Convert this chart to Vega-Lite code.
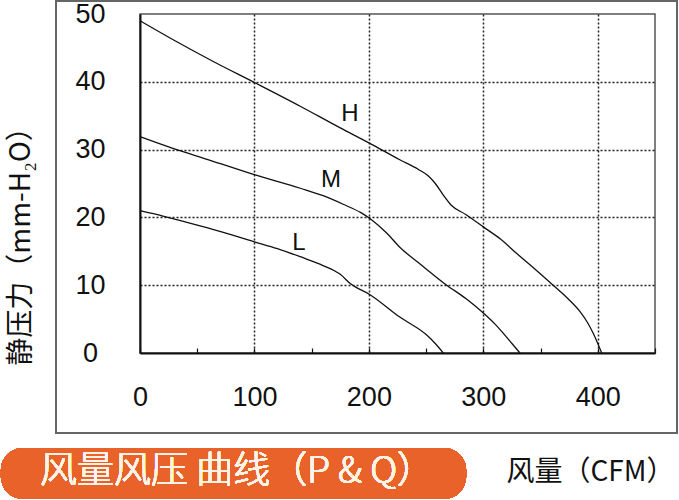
{
  "$schema": "https://vega.github.io/schema/vega-lite/v6.json",
  "width": 515,
  "height": 339,
  "autosize": {"type": "none"},
  "padding": {"left": 140, "top": 14, "right": 24, "bottom": 147},
  "background": "white",
  "config": {
    "view": {"stroke": "#555", "strokeWidth": 1.5},
    "font": "Liberation Sans"
  },
  "data": {
    "values": [
      {"curve": "H", "q": 0, "p": 49},
      {"curve": "H", "q": 29, "p": 46.2},
      {"curve": "H", "q": 64, "p": 43},
      {"curve": "H", "q": 100, "p": 39.9},
      {"curve": "H", "q": 140, "p": 36.4},
      {"curve": "H", "q": 175, "p": 33.2},
      {"curve": "H", "q": 200, "p": 31},
      {"curve": "H", "q": 227, "p": 28.5},
      {"curve": "H", "q": 243, "p": 27.1},
      {"curve": "H", "q": 252, "p": 26.1},
      {"curve": "H", "q": 258, "p": 25},
      {"curve": "H", "q": 265, "p": 23.3},
      {"curve": "H", "q": 272, "p": 21.8},
      {"curve": "H", "q": 285, "p": 20.4},
      {"curve": "H", "q": 300, "p": 18.6},
      {"curve": "H", "q": 315, "p": 16.8},
      {"curve": "H", "q": 329, "p": 14.7},
      {"curve": "H", "q": 345, "p": 12.4},
      {"curve": "H", "q": 361, "p": 10},
      {"curve": "H", "q": 374, "p": 8},
      {"curve": "H", "q": 384.5, "p": 6.1},
      {"curve": "H", "q": 391, "p": 4.5},
      {"curve": "H", "q": 396, "p": 2.9},
      {"curve": "H", "q": 400, "p": 1.4},
      {"curve": "H", "q": 403.4, "p": 0},
      {"curve": "M", "q": 0, "p": 31.9},
      {"curve": "M", "q": 30, "p": 30.1},
      {"curve": "M", "q": 60, "p": 28.5},
      {"curve": "M", "q": 100, "p": 26.3},
      {"curve": "M", "q": 140, "p": 24.3},
      {"curve": "M", "q": 160, "p": 23.2},
      {"curve": "M", "q": 178, "p": 21.9},
      {"curve": "M", "q": 193, "p": 20.7},
      {"curve": "M", "q": 202, "p": 19.7},
      {"curve": "M", "q": 215.5, "p": 17.7},
      {"curve": "M", "q": 227, "p": 15.6},
      {"curve": "M", "q": 245, "p": 13.1},
      {"curve": "M", "q": 268, "p": 10},
      {"curve": "M", "q": 285, "p": 8},
      {"curve": "M", "q": 300, "p": 5.9},
      {"curve": "M", "q": 310, "p": 4.3},
      {"curve": "M", "q": 317.5, "p": 2.9},
      {"curve": "M", "q": 325, "p": 1.4},
      {"curve": "M", "q": 332, "p": 0},
      {"curve": "L", "q": 0, "p": 21},
      {"curve": "L", "q": 20, "p": 20.2},
      {"curve": "L", "q": 60, "p": 18.4},
      {"curve": "L", "q": 100, "p": 16.4},
      {"curve": "L", "q": 120, "p": 15.4},
      {"curve": "L", "q": 140, "p": 14.2},
      {"curve": "L", "q": 160, "p": 12.9},
      {"curve": "L", "q": 175, "p": 11.6},
      {"curve": "L", "q": 184, "p": 10.2},
      {"curve": "L", "q": 201, "p": 8.6},
      {"curve": "L", "q": 227, "p": 5.3},
      {"curve": "L", "q": 250.5, "p": 2.65},
      {"curve": "L", "q": 258, "p": 1.4},
      {"curve": "L", "q": 265, "p": 0}
    ]
  },
  "layer": [
    {
      "mark": {"type": "rect", "fill": null, "stroke": "#666", "strokeWidth": 1.5, "clip": false},
      "encoding": {
        "x": {"datum": -73.4, "type": "quantitative"},
        "x2": {"datum": 469.2},
        "y": {"datum": 51.9, "type": "quantitative"},
        "y2": {"datum": -11.8}
      }
    },
    {
      "mark": {"type": "rect", "fill": "#e8622a", "cornerRadius": 22, "clip": false},
      "encoding": {
        "x": {"datum": -121.5, "type": "quantitative"},
        "x2": {"datum": 284.9},
        "y": {"datum": -14.0, "type": "quantitative"},
        "y2": {"datum": -21.5}
      }
    },
    {
      "mark": {"type": "text", "font": "Noto Sans CJK SC", "fontSize": 37, "fontWeight": 300, "color": "#fff4e6", "align": "center", "baseline": "middle", "clip": false},
      "encoding": {
        "x": {"datum": 84.8, "type": "quantitative"},
        "y": {"datum": -17.6, "type": "quantitative"},
        "text": {"value": "风量风压 曲线（P & Q）"}
      }
    },
    {
      "mark": {"type": "line", "color": "#111", "strokeWidth": 1.3, "interpolate": "monotone"},
      "encoding": {
        "x": {
          "field": "q", "type": "quantitative",
          "scale": {"domain": [0, 450], "nice": false},
          "axis": {
            "values": [0, 50, 100, 150, 200, 250, 300, 350, 400, 450],
            "labelExpr": "datum.value % 100 == 0 && datum.value < 450 ? datum.label : ''",
            "labelFlush": false,
            "title": "风量（CFM）",
            "titleFont": "Noto Sans CJK SC",
            "titleFontSize": 28,
            "titleFontWeight": "normal",
            "titleColor": "#111",
            "titleAnchor": null,
            "titleAlign": "center",
            "titleBaseline": "middle",
            "titleX": 450,
            "titleY": 119,
            "labelFont": "Liberation Sans",
            "labelFontSize": 27,
            "labelColor": "#111",
            "labelPadding": 49,
            "labelBaseline": "middle",
            "domainColor": "#111",
            "domainWidth": 2,
            "tickColor": "#111",
            "tickSize": -5,
            "tickWidth": 1.2,
            "grid": true,
            "gridColor": "#222",
            "gridDash": [2, 2],
            "gridWidth": 1.5,
            "gridOpacity": {"condition": {"test": "datum.value % 100 == 0 && datum.value > 0", "value": 1}, "value": 0}
          }
        },
        "y": {
          "field": "p", "type": "quantitative",
          "scale": {"domain": [0, 50], "nice": false},
          "axis": {
            "values": [0, 10, 20, 30, 40, 50],
            "labelFlush": false,
            "title": "静压力（mm-H₂O）",
            "titleFont": "Noto Sans CJK SC",
            "titleFontSize": 28,
            "titleFontWeight": "normal",
            "titleColor": "#111",
            "titleAngle": 270,
            "titleAnchor": null,
            "titleAlign": "center",
            "titleBaseline": "middle",
            "titleX": -119,
            "titleY": 225,
            "labelFont": "Liberation Sans",
            "labelFontSize": 27,
            "labelColor": "#111",
            "labelAlign": "center",
            "labelBaseline": "middle",
            "labelPadding": 50,
            "ticks": false,
            "domainColor": "#111",
            "domainWidth": 2,
            "grid": true,
            "gridColor": "#222",
            "gridDash": [2, 2],
            "gridWidth": 1.5,
            "gridOpacity": {"condition": {"test": "datum.value > 0 && datum.value < 50", "value": 1}, "value": 0}
          }
        },
        "detail": {"field": "curve"}
      }
    },
    {
      "data": {
        "values": [
          {"label": "H", "q": 183.5, "p": 35.2},
          {"label": "M", "q": 166.9, "p": 25.5},
          {"label": "L", "q": 138.9, "p": 16.2}
        ]
      },
      "mark": {"type": "text", "font": "Liberation Sans", "fontSize": 24, "color": "#111", "align": "center", "baseline": "middle"},
      "encoding": {
        "x": {"field": "q", "type": "quantitative"},
        "y": {"field": "p", "type": "quantitative"},
        "text": {"field": "label"}
      }
    }
  ]
}
